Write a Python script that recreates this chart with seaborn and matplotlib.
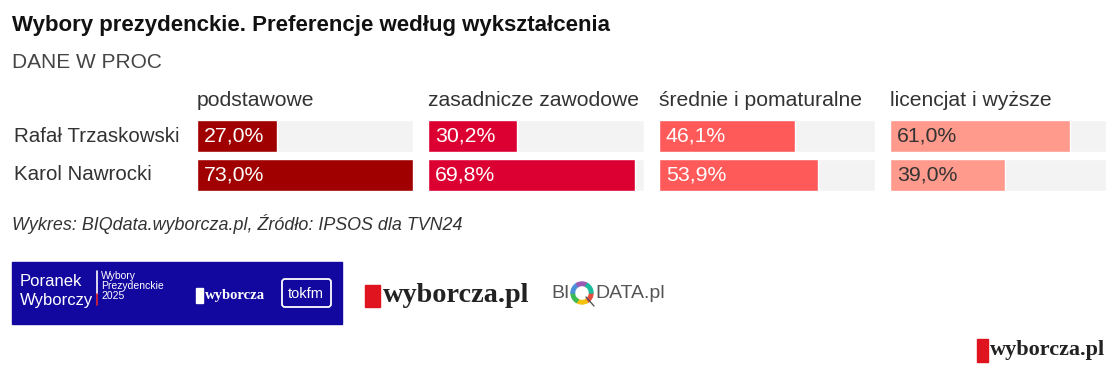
import matplotlib
matplotlib.use("Agg")
import matplotlib.pyplot as plt
import seaborn as sns
import pandas as pd
from matplotlib.patches import Rectangle, FancyBboxPatch, Wedge

# data
candidates = ["Rafał Trzaskowski", "Karol Nawrocki"]
education = ["podstawowe", "zasadnicze zawodowe", "średnie i pomaturalne", "licencjat i wyższe"]
trzaskowski = [27.0, 30.2, 46.1, 61.0]
nawrocki = [73.0, 69.8, 53.9, 39.0]

colors = ["#a00000", "#dc0032", "#ff5a5a", "#ff9a8c"]
label_colors = ["white", "white", "white", "#333333"]
track = "#f3f3f3"

W, H = 1113, 376
sns.set_theme(style="white")
plt.rcParams["font.family"] = ["Liberation Sans", "DejaVu Sans"]

fig = plt.figure(figsize=(W / 100, H / 100), dpi=100)

# overlay axes in pixel coords for text + logos
bg = fig.add_axes([0, 0, 1, 1])
bg.set_xlim(0, W)
bg.set_ylim(H, 0)
bg.axis("off")

bg.text(12, 25, "Wybory prezydenckie. Preferencje według wykształcenia",
        fontsize=16, fontweight="bold", color="#111111", va="center")
bg.text(12, 62, "DANE W PROC", fontsize=15, color="#444444", va="center")

for j, name in enumerate(candidates):
    bg.text(14, 136 + 39 * j, name, fontsize=14.8, color="#333333", va="center")

xmax = max(max(trzaskowski), max(nawrocki))

for i, edu in enumerate(education):
    x0 = 197 + 231 * i
    bg.text(x0, 100, edu, fontsize=15.2, color="#333333", va="center")

    ax = fig.add_axes([x0 / W, (H - 194.5) / H, 216 / W, 78 / H])
    df = pd.DataFrame({
        "kandydat": candidates,
        "wartosc": [trzaskowski[i], nawrocki[i]],
    })
    df["tlo"] = xmax
    sns.barplot(data=df, x="tlo", y="kandydat", color=track, width=0.82,
                saturation=1, ax=ax)
    sns.barplot(data=df, x="wartosc", y="kandydat", color=colors[i], width=0.82,
                saturation=1, ax=ax)
    ax.set_xlim(0, xmax)
    ax.set_ylim(1.5, -0.5)
    ax.axis("off")
    for j, v in enumerate(df["wartosc"]):
        ax.text(xmax * 7 / 216, j, f"{v:.1f}%".replace(".", ","),
                fontsize=15.3, color=label_colors[i], va="center")

bg.text(12, 224, "Wykres: BIQdata.wyborcza.pl, Źródło: IPSOS dla TVN24",
        fontsize=12.9, style="italic", color="#333333", va="center")

# partner logos
bg.add_patch(Rectangle((12, 262), 330, 62, color="#12079e"))
bg.text(20, 282, "Poranek", fontsize=12, color="white", va="center")
bg.text(20, 300, "Wyborczy", fontsize=12, color="white", va="center")
bg.plot([97, 97], [271, 294], color="white", lw=1.2)
bg.plot([97, 97], [294, 305], color="#e3262c", lw=1.2)
bg.text(101, 276, "Wybory", fontsize=7.5, color="white", va="center")
bg.text(101, 286, "Prezydenckie", fontsize=7.5, color="white", va="center")
bg.text(101, 296, "2025", fontsize=7.5, color="white", va="center")
bg.add_patch(Rectangle((196, 288), 7, 15, color="white"))
bg.text(205, 295, "wyborcza", fontsize=10.5, family="Liberation Serif",
        fontweight="bold", color="white", va="center")
bg.add_patch(FancyBboxPatch((282, 279), 49, 28, boxstyle="round,pad=0,rounding_size=3",
                            fill=False, ec="white", lw=1.3))
bg.text(306, 294, "tokfm", fontsize=10.5, color="white", va="center", ha="center")

bg.add_patch(Rectangle((365, 285), 15, 22, color="#e0141e"))
bg.text(383, 296, "wyborcza.pl", fontsize=20.3, family="Liberation Serif",
        fontweight="bold", color="#222222", va="center")

bg.text(551, 293, "BI", fontsize=14, color="#555555", va="center")
ring = ["#e94b3c", "#f4c20d", "#3cba54", "#4a90d9", "#9b59b6", "#1abc9c"]
for k, c in enumerate(ring):
    bg.add_patch(Wedge((582, 293), 11, k * 60, (k + 1) * 60, width=3.5, color=c))
bg.plot([586, 594], [297, 306], color="#555555", lw=1)
bg.text(595, 293, "DATA.pl", fontsize=14, color="#555555", va="center")

bg.add_patch(Rectangle((977, 339), 11, 23, color="#e0141e"))
bg.text(990, 350, "wyborcza.pl", fontsize=16, family="Liberation Serif",
        fontweight="bold", color="#222222", va="center")

fig.savefig("out.png", dpi=100)
